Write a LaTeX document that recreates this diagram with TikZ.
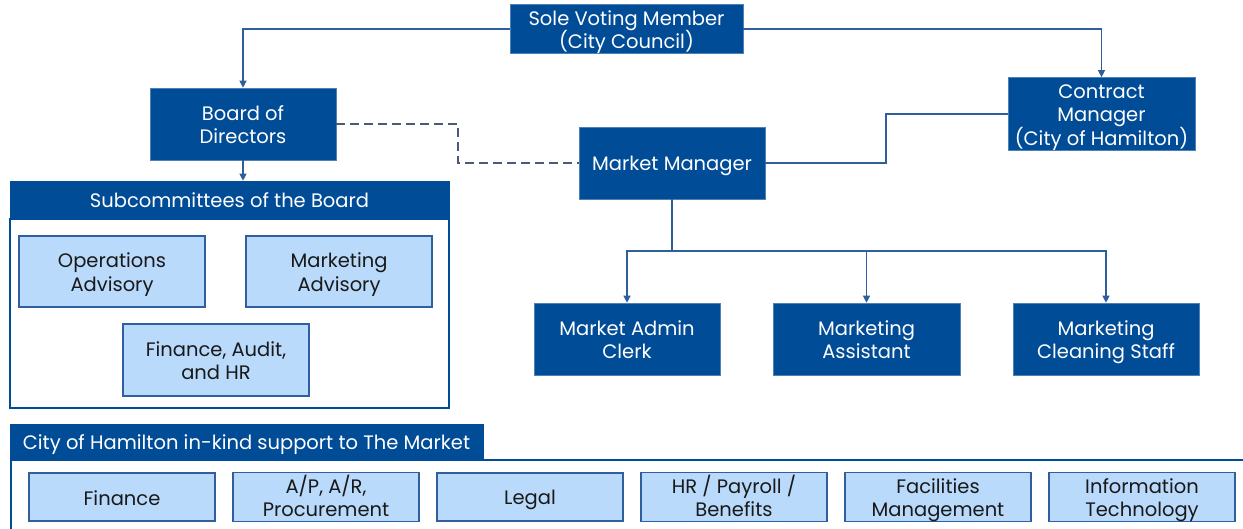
\documentclass[tikz,border=0pt]{standalone}
\usepackage{fontspec}
\setmainfont{Poppins}
\usetikzlibrary{arrows.meta}
\definecolor{dblue}{HTML}{004C97}
\definecolor{lblue}{HTML}{B9DAFB}
\definecolor{lborder}{HTML}{2F5F9E}
\definecolor{conn}{HTML}{2E5E9C}
\definecolor{dashc}{HTML}{4A5A78}
\newcommand\mytop{\rule{0pt}{21pt}}
\newcommand\mybot{\rule[-5pt]{0pt}{0pt}}
\begin{document}
\begin{tikzpicture}[x=1pt,y=-1pt,
  dbox/.style={fill=dblue, draw=dblue!70!white, line width=0.6pt, text=white, align=center, inner sep=0pt,
    font=\fontsize{19.5}{23.5}\selectfont},
  lbox/.style={fill=lblue, draw=lborder, line width=1.2pt, text=black!90, align=center, inner sep=0pt,
    minimum width=186pt, font=\fontsize{19.5}{23.5}\selectfont},
  arr/.style={draw=conn, line width=1.2pt, -{Triangle[length=7pt,width=7pt]}},
  plain/.style={draw=conn, line width=1.2pt},
  dashconn/.style={draw=dashc, line width=1.3pt, dash pattern=on 9pt off 5pt}]
\path[use as bounding box, clip] (0,0) rectangle (1243,529);
\fill[white] (0,0) rectangle (1243,529);

% top level
\node[dbox, minimum width=233pt, minimum height=42pt] (svm) at (626.5,29) {\mytop Sole Voting Member\\(City Council)\mybot};
\node[dbox, minimum width=186pt, minimum height=72pt] (bod) at (243,124) {\mytop Board of\\Directors\mybot};
\node[dbox, minimum width=186pt, minimum height=72pt] (mm) at (672,163) {\mytop Market Manager\mybot};
\node[dbox, minimum width=187pt, minimum height=72pt] (cm) at (1101.5,114) {\mytop Contract\\Manager\\(City of Hamilton)\mybot};

% subcommittees container
\node[draw=dblue, line width=2pt, fill=white, minimum width=439pt, minimum height=189pt, inner sep=0pt] (subbody) at (229.5,313.5) {};
\node[dbox, draw=dblue, minimum width=439pt, minimum height=38pt] (subhead) at (229.5,200) {\mytop Subcommittees of the Board\mybot};
\node[lbox, minimum height=71pt] (ops) at (112,271.5) {\mytop Operations\\Advisory\mybot};
\node[lbox, minimum height=71pt] (mkta) at (339,271.5) {\mytop Marketing\\Advisory\mybot};
\node[lbox, minimum height=72pt] (fin) at (216,360) {\mytop Finance, Audit,\\and HR\mybot};

% staff
\node[dbox, minimum width=186pt, minimum height=72pt] (mac) at (627,339) {\mytop Market Admin\\Clerk\mybot};
\node[dbox, minimum width=187pt, minimum height=72pt] (masst) at (866.5,339) {\mytop Marketing\\Assistant\mybot};
\node[dbox, minimum width=186pt, minimum height=72pt] (mcs) at (1106,339) {\mytop Marketing\\Cleaning Staff\mybot};

% bottom container
\node[draw=dblue, line width=2pt, fill=white, minimum width=1300pt, minimum height=120pt, inner sep=0pt, anchor=north west] (supbody) at (10,459) {};
\node[dbox, draw=dblue, minimum width=473pt, minimum height=35pt] (suphead) at (246.5,441.5) {\mytop City of Hamilton in-kind support to The Market\mybot};
\node[lbox, minimum height=48pt] (s1) at (122,497) {\mytop Finance\mybot};
\node[lbox, minimum height=48pt] (s2) at (326,497) {\mytop A/P, A/R,\\Procurement\mybot};
\node[lbox, minimum height=48pt] (s3) at (530,497) {\mytop Legal\mybot};
\node[lbox, minimum height=48pt] (s4) at (734,497) {\mytop HR / Payroll /\\Benefits\mybot};
\node[lbox, minimum height=48pt] (s5) at (938,497) {\mytop Facilities\\Management\mybot};
\node[lbox, minimum height=48pt] (s6) at (1142,497) {\mytop Information\\Technology\mybot};

% connectors
\draw[arr] (svm.west) -| (bod.north);
\draw[arr] (svm.east) -| (cm.north);
\draw[arr] (bod.south) -- (bod.south |- subhead.north);
\coordinate (dk) at (458,124);
\draw[dashconn] (bod.east) -- (dk) |- (mm.west);
\coordinate (mk) at (886,163);
\draw[plain] (mm.east) -- (mk) |- (cm.west);
\coordinate (hub) at (672,251);
\draw[plain] (mm.south) -- (hub);
\draw[arr] (hub) -| (mac.north);
\draw[arr] (hub) -| (masst.north);
\draw[arr] (hub) -| (mcs.north);
\end{tikzpicture}
\end{document}
